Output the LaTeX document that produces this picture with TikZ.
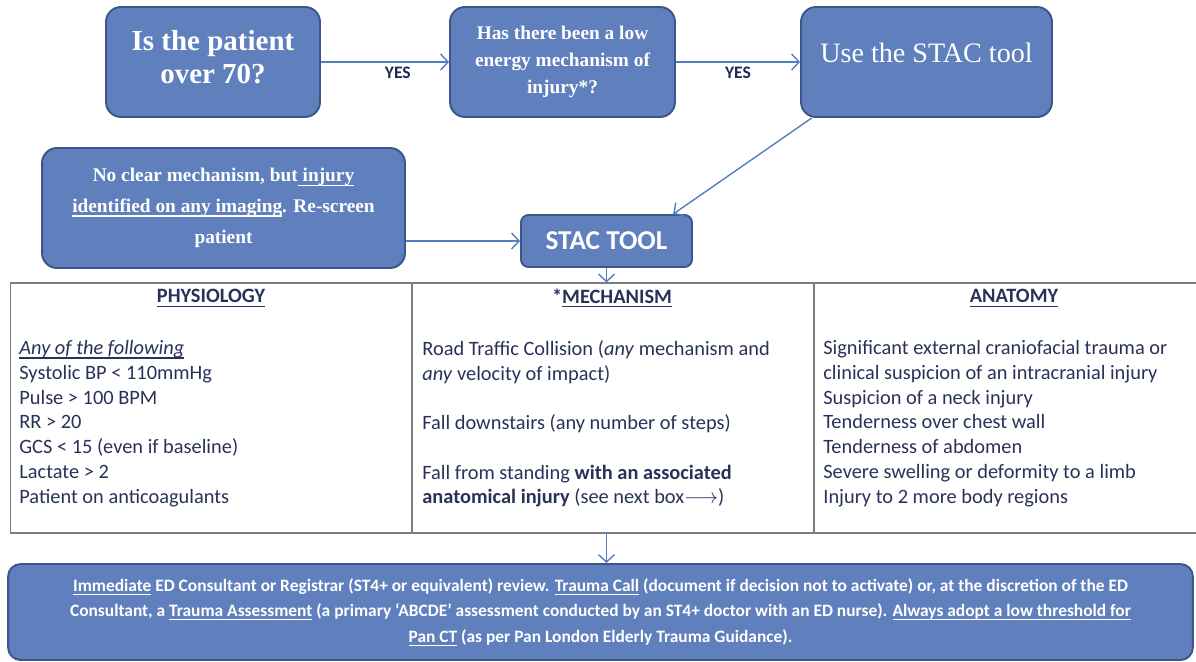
\documentclass[tikz,border=0pt]{standalone}
\usepackage{fontspec}
\setmainfont{Carlito}
\newfontfamily\boxserif{Liberation Serif}
\usetikzlibrary{arrows.meta}
\definecolor{boxblue}{RGB}{96,127,189}
\definecolor{boxedge}{RGB}{58,86,138}
\definecolor{arrowblue}{RGB}{84,126,190}
\definecolor{inktext}{RGB}{40,50,88}
\definecolor{yesblue}{RGB}{30,42,80}
\definecolor{rulegray}{RGB}{125,125,125}
\newsavebox\undlbox
\newcommand\undl[1]{\sbox\undlbox{#1}\rlap{\rule[-0.2em]{\wd\undlbox}{0.055em}}\usebox\undlbox}

\begin{document}
\begin{tikzpicture}[x=0.02cm,y=-0.02cm,>={Straight Barb[length=1.5mm,width=3.2mm]},bluebox/.style={draw=boxedge,line width=1.1pt,fill=boxblue,rounded corners=0.3cm,text=white,align=center,inner sep=2pt},flow/.style={->,draw=arrowblue,line width=0.8pt},col/.style={draw=rulegray,line width=0.6pt,minimum height=5cm,inner sep=0pt},yes/.style={font=\fontsize{10}{12}\selectfont\bfseries,text=yesblue},colhead/.style={font=\fontsize{11.6}{14.1}\selectfont\bfseries,text=inktext},colbody/.style={font=\fontsize{11.6}{14.1}\selectfont,text=inktext,align=left,anchor=north west,inner sep=0pt}]
\useasboundingbox (0,0) rectangle (1196,662);

\node[bluebox,minimum width=4.28cm,minimum height=2.2cm,text depth=6pt,font=\boxserif\fontsize{16.5}{18.8}\selectfont\bfseries] (age) at (213,62) {Is the patient\\over 70?};
\node[bluebox,minimum width=4.5cm,minimum height=2.2cm,font=\boxserif\fontsize{11}{15.5}\selectfont\bfseries] (lowenergy) at (562.5,62) {Has there been a low\\energy mechanism of\\injury*?};
\node[bluebox,minimum width=5.02cm,minimum height=2.2cm,text depth=11pt,font=\boxserif\fontsize{16}{19}\selectfont] (usestac) at (926.5,62) {Use the STAC tool};
\node[bluebox,minimum width=7.26cm,minimum height=2.4cm,font=\boxserif\fontsize{11}{17.6}\selectfont\bfseries] (rescreen) at (223.5,208) {No clear mechanism, but\undl{ injury}\\\undl{identified on any imaging}. Re-screen\\patient};
\node[bluebox,rounded corners=0.15cm,minimum width=3.42cm,minimum height=1.04cm,font=\fontsize{15.5}{18}\selectfont\bfseries] (stac) at (606.5,241) {STAC TOOL};

\draw[flow] (age) -- node[yes,pos=0.6,below=-1pt] {YES} (lowenergy);
\draw[flow] (lowenergy) -- node[yes,below=-1pt] {YES} (usestac);
\draw[flow] (usestac.206.5) -- (stac.22);
\draw[flow] (rescreen.east |- stac.west) -- (stac.west);

\node[col,minimum width=8.04cm] (physio) at (211,408) {};
\node[col,minimum width=8.04cm] (mech) at (613,408) {};
\node[col,minimum width=7.92cm] (anat) at (1012,408) {};
\draw[flow] (stac.south) -- (stac.south |- mech.north);

\node[colhead] at (211,298) {\undl{PHYSIOLOGY}};
\node[colhead] at (612,298) {*\undl{MECHANISM}};
\node[colhead] at (1014,298) {\undl{ANATOMY}};

\node[colbody] at (19,340) {\undl{\textit{Any of the following}}\\Systolic BP < 110mmHg\\Pulse > 100 BPM\\RR > 20\\GCS < 15 (even if baseline)\\Lactate > 2\\Patient on anticoagulants};
\node[colbody] at (422,340) {Road Traffic Collision (\textit{any} mechanism and\\\textit{any} velocity of impact)\\[14.1pt]Fall downstairs (any number of steps)\\[14.1pt]Fall from standing \textbf{with an associated}\\\textbf{anatomical injury} (see next box$\longrightarrow$)};
\node[colbody] at (823,340) {Significant external craniofacial trauma or\\clinical suspicion of an intracranial injury\\Suspicion of a neck injury\\Tenderness over chest wall\\Tenderness of abdomen\\Severe swelling or deformity to a limb\\Injury to 2 more body regions};

\node[bluebox,rounded corners=0.25cm,minimum width=23.7cm,minimum height=1.92cm,font=\fontsize{9.9}{14.5}\selectfont\bfseries] (review) at (600.5,612) {\undl{Immediate} ED Consultant or Registrar (ST4+ or equivalent) review. \undl{Trauma Call} (document if decision not to activate) or, at the discretion of the ED\\Consultant, a \undl{Trauma Assessment} (a primary ‘ABCDE’ assessment conducted by an ST4+ doctor with an ED nurse). \undl{Always adopt a low threshold for}\\\undl{Pan CT} (as per Pan London Elderly Trauma Guidance).};
\draw[flow] (stac.south |- mech.south) -- (stac.south |- review.north);
\end{tikzpicture}
\end{document}
